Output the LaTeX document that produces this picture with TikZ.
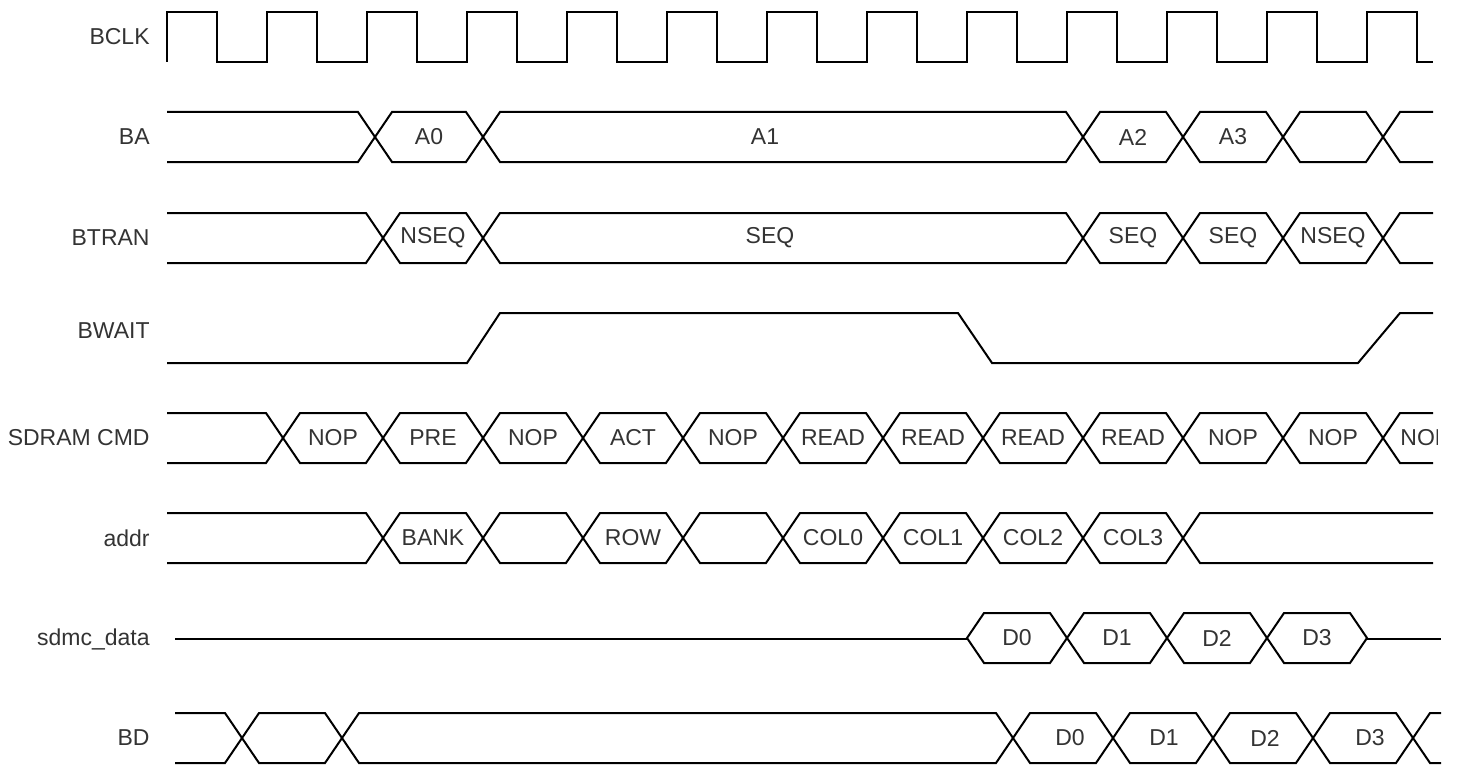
\documentclass[tikz,border=0pt]{standalone}
\usepackage{fontspec}
\setmainfont{Liberation Sans}
\usepackage{tikz}
\tikzset{
     sigWave/.style =
        { draw
        , line width=1pt
        , line join=miter
        }
   , sigLabel/.style =
        { anchor=east
        , inner sep=0pt
        , text=black!80
        , font=\fontsize{11.5}{13}\selectfont
        }
   , busText/.style =
        { inner sep=0pt
        , text=black!80
        , font=\fontsize{11.5}{13}\selectfont
        }
}

\begin{document}
\begin{tikzpicture}
            [ x=0.5pt
            , y=-0.5pt
            ]
            \useasboundingbox (0,0) rectangle (1460,765);

            % signal names
            \node[sigLabel] (bclk)  at (150,37)  {BCLK};
            \node[sigLabel] (ba)    at (150,137) {BA};
            \node[sigLabel] (btran) at (150,238) {BTRAN};
            \node[sigLabel] (bwait) at (150,331) {BWAIT};
            \node[sigLabel] (cmd)   at (150,438) {SDRAM CMD};
            \node[sigLabel] (addr)  at (150,538) {addr};
            \node[sigLabel] (sdmc)  at (150,639) {sdmc\_data};
            \node[sigLabel] (bd)    at (150,738) {BD};

            % BCLK
            \draw[sigWave] (167,62)
                \foreach \x in {167,267,...,1367}
                    { -- (\x,62) -- (\x,12) -- (\x+50,12) -- (\x+50,62) }
                -- (1433,62);

            % BA
            \draw[sigWave] (167,112) -- (358,112) -- (375,137) -- (358,162) -- (167,162);
            \foreach \a/\b in {375/483,483/1083,1083/1183,1183/1283,1283/1383}
                \draw[sigWave] (\a,137) -- (\a+17,112) -- (\b-17,112) -- (\b,137)
                               -- (\b-17,162) -- (\a+17,162) -- cycle;
            \draw[sigWave] (1433,112) -- (1400,112) -- (1383,137) -- (1400,162) -- (1433,162);
            \foreach \t/\c [count=\i] in {A0/429,A1/765,A2/1133,A3/1233}
                \node[busText] (ba\i) at (\c,137) {\t};

            % BTRAN
            \draw[sigWave] (167,213) -- (366,213) -- (383,238) -- (366,263) -- (167,263);
            \foreach \a/\b in {383/483,483/1083,1083/1183,1183/1283,1283/1383}
                \draw[sigWave] (\a,238) -- (\a+17,213) -- (\b-17,213) -- (\b,238)
                               -- (\b-17,263) -- (\a+17,263) -- cycle;
            \draw[sigWave] (1433,213) -- (1400,213) -- (1383,238) -- (1400,263) -- (1433,263);
            \foreach \t/\c [count=\i] in {NSEQ/433,SEQ/770,SEQ/1133,SEQ/1233,NSEQ/1333}
                \node[busText] (btran\i) at (\c,238) {\t};

            % BWAIT
            \draw[sigWave] (167,363) -- (467,363) -- (500,313) -- (958,313) -- (992,363)
                           -- (1358,363) -- (1400,313) -- (1433,313);

            % SDRAM CMD
            \draw[sigWave] (167,413) -- (266,413) -- (283,438) -- (266,463) -- (167,463);
            \foreach \a/\t [count=\i] in {283/NOP,383/PRE,483/NOP,583/ACT,683/NOP,783/READ,
                                          883/READ,983/READ,1083/READ,1183/NOP,1283/NOP}
            {
                \draw[sigWave] (\a,438) -- (\a+17,413) -- (\a+83,413) -- (\a+100,438)
                               -- (\a+83,463) -- (\a+17,463) -- cycle;
                \node[busText] (cmd\i) at (\a+50,438) {\t};
            }
            \draw[sigWave] (1433,413) -- (1400,413) -- (1383,438) -- (1400,463) -- (1433,463);
            \begin{scope}
                \clip (1383,400) rectangle (1437,476);
                \node[busText, anchor=west] (cmd12) at (1400,438) {NOP};
            \end{scope}

            % addr
            \draw[sigWave] (167,513) -- (366,513) -- (383,538) -- (366,563) -- (167,563);
            \foreach \a in {383,483,...,1083}
                \draw[sigWave] (\a,538) -- (\a+17,513) -- (\a+83,513) -- (\a+100,538)
                               -- (\a+83,563) -- (\a+17,563) -- cycle;
            \draw[sigWave] (1433,513) -- (1200,513) -- (1183,538) -- (1200,563) -- (1433,563);
            \foreach \t/\c [count=\i] in {BANK/433,ROW/633,COL0/833,COL1/933,COL2/1033,COL3/1133}
                \node[busText] (addr\i) at (\c,538) {\t};

            % sdmc_data
            \draw[sigWave] (175,639) -- (967,639);
            \foreach \a/\t [count=\i] in {967/D0,1067/D1,1167/D2,1267/D3}
            {
                \draw[sigWave] (\a,638) -- (\a+17,613) -- (\a+83,613) -- (\a+100,638)
                               -- (\a+83,663) -- (\a+17,663) -- cycle;
                \node[busText] (sdmc\i) at (\a+50,638) {\t};
            }
            \draw[sigWave] (1367,639) -- (1441,639);

            % BD
            \draw[sigWave] (175,713) -- (225,713) -- (242,738) -- (225,763) -- (175,763);
            \foreach \a/\b in {242/342,342/1013,1013/1113,1113/1213,1213/1313,1313/1413}
                \draw[sigWave] (\a,738) -- (\a+17,713) -- (\b-17,713) -- (\b,738)
                               -- (\b-17,763) -- (\a+17,763) -- cycle;
            \draw[sigWave] (1441,713) -- (1430,713) -- (1413,738) -- (1430,763) -- (1441,763);
            \foreach \t/\c [count=\i] in {D0/1070,D1/1164,D2/1265,D3/1370}
                \node[busText] (bd\i) at (\c,738) {\t};
\end{tikzpicture}
\end{document}
